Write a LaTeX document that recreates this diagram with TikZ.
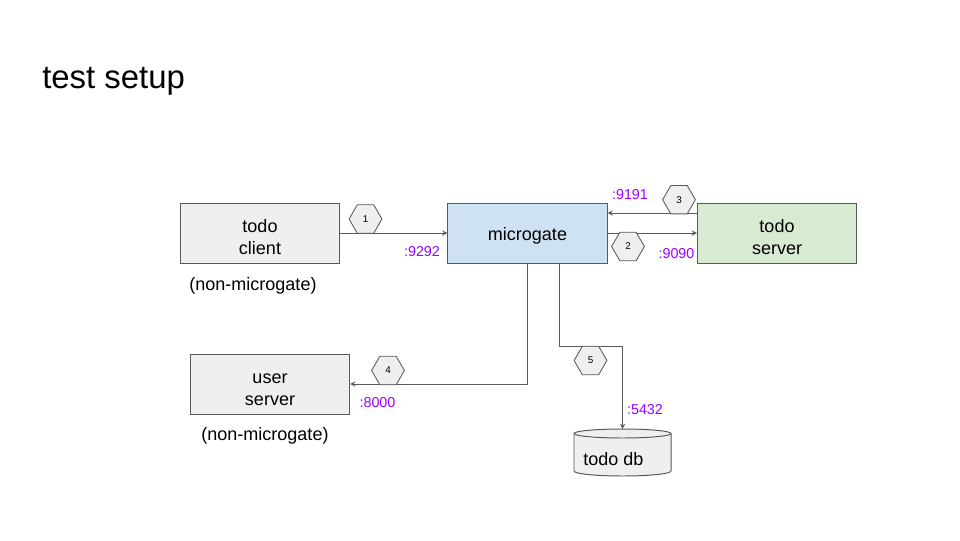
\documentclass[tikz,border=0pt]{standalone}
\usepackage{fontspec}
\setmainfont{Liberation Sans}
\usepackage{xcolor}
\usetikzlibrary{shapes.geometric}
\definecolor{edge}{HTML}{595959}
\definecolor{boxgray}{HTML}{EFEFEF}
\definecolor{mgblue}{HTML}{CFE2F3}
\definecolor{srvgreen}{HTML}{D9EAD3}
\definecolor{portpurple}{HTML}{9900FF}
\newcommand{\boxfont}{\fontsize{12.8}{15.6}\selectfont}

\begin{document}
\begin{tikzpicture}[x=0.025cm, y=-0.025cm,
        svc/.style={draw=edge, line width=0.7pt, minimum width=3.975cm, minimum height=1.5cm,
            align=center, font=\boxfont, text height=30.4pt, text depth=0pt},
        hexnum/.style={regular polygon, regular polygon sides=6, draw=edge, fill=boxgray,
            line width=0.6pt, minimum size=0.82cm, inner sep=0, font=\fontsize{7}{8}\selectfont},
        port/.style={text=portpurple, inner sep=0, font=\fontsize{10.2}{12}\selectfont},
        note/.style={inner sep=0, font=\boxfont},
        link/.style={draw=edge, line width=0.7pt, -stealth}]
    \useasboundingbox (0,0) rectangle (960,540);
    \node[anchor=base west, inner sep=0, font=\fontsize{23.4}{28}\selectfont] (title) at (42,88) {test setup};
    % services
    \node[svc, fill=boxgray] (cli) at (260,233) {todo\\client};
    \node[svc, fill=mgblue, text height=11pt] (mg) at (527.5,233) {microgate};
    \node[svc, fill=srvgreen] (srv) at (777,233) {todo\\server};
    \node[svc, fill=boxgray] (usr) at (270,384) {user\\server};
    \node[note] (clinote) at (253,286) {(non-microgate)};
    \node[note] (usrnote) at (265,436) {(non-microgate)};
    % database
    \fill[boxgray] (574,433.5) -- (574,471) arc[start angle=180, end angle=0, x radius=48.5, y radius=5]
        -- (671,433.5) arc[start angle=0, end angle=-180, x radius=48.5, y radius=4.5];
    \draw[edge, line width=0.7pt] (574,433.5) -- (574,471) arc[start angle=180, end angle=0, x radius=48.5, y radius=5]
        -- (671,433.5);
    \draw[edge, line width=0.7pt] (622.5,433.5) ellipse[x radius=48.5, y radius=4.5];
    \coordinate (dbtop) at (622.5,429);
    \node[note, anchor=west] (db) at (583,459) {todo db};
    % connections
    \draw[link] (cli.east) -- (mg.west);
    \draw[link] (mg.east) -- (srv.west);
    \draw[link] ([yshift=0.5cm]srv.west) -- ([yshift=0.5cm]mg.east);
    \draw[link] (mg.south) |- (usr.east);
    \draw[link] ([xshift=0.8cm]mg.south) -- ++(0,83) -| (dbtop);
    % step numbers
    \node[hexnum] (h1) at (365.5,219) {1};
    \node[hexnum] (h2) at (628,246.5) {2};
    \node[hexnum] (h3) at (679,199.7) {3};
    \node[hexnum] (h4) at (388,370.5) {4};
    \node[hexnum] (h5) at (590.5,360.5) {5};
    % ports
    \node[port] (p9292) at (422,252) {:9292};
    \node[port] (p9191) at (630,195) {:9191};
    \node[port] (p9090) at (676.5,254) {:9090};
    \node[port] (p8000) at (377.5,403) {:8000};
    \node[port] (p5432) at (645,410) {:5432};
\end{tikzpicture}
\end{document}
